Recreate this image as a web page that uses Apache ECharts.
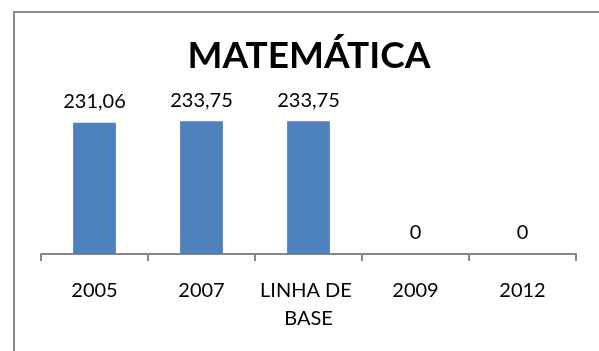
<!DOCTYPE html>
<html>
<head>
<meta charset="utf-8">
<script src="https://cdn.jsdelivr.net/npm/echarts@6/dist/echarts.min.js"></script>
<style>
  html, body { margin: 0; padding: 0; background: #fff; }
  #chart { width: 599px; height: 351px; }
</style>
</head>
<body>
<div id="chart"></div>
<script>
// Categories and scores for the mathematics chart
const categories = ['2005', '2007', 'LINHA DE BASE', '2009', '2012'];
const scores = [231.06, 233.75, 233.75, 0, 0];
const titleText = 'MATEMÁTICA';

const fmt = v => v === 0 ? '0' : v.toFixed(2).replace('.', ',');

const chart = echarts.init(document.getElementById('chart'), null, { renderer: 'canvas' });
chart.setOption({
  animation: false,
  backgroundColor: '#fff',
  graphic: [{
    type: 'rect',
    shape: { x: 14, y: 12, width: 800, height: 600 },
    style: { fill: 'none', stroke: '#8a8a8a', lineWidth: 2 },
    silent: true,
    z: 0
  }, {
    type: 'text',
    x: 309, y: 38,
    style: {
      text: titleText,
      fontFamily: 'Lato', fontWeight: 'bold', fontSize: 37, fill: '#000',
      textAlign: 'center', textVerticalAlign: 'top'
    },
    silent: true
  }],
  grid: { left: 41, right: 23, top: 112, bottom: 97 },
  xAxis: {
    type: 'category',
    data: categories,
    axisLine: { lineStyle: { color: '#868686', width: 2 } },
    axisTick: { show: true, alignWithLabel: false, length: 7, lineStyle: { color: '#868686', width: 2 } },
    axisLabel: {
      fontFamily: 'Lato', fontSize: 20, color: '#000', margin: 23,
      lineHeight: 28, width: 104, overflow: 'break', interval: 0
    }
  },
  yAxis: { type: 'value', min: 0, max: 250, show: false, splitLine: { show: false } },
  series: [{
    type: 'bar',
    data: scores,
    barWidth: '40%',
    itemStyle: { color: '#4F81BD' },
    label: {
      show: true, position: 'top', distance: 11,
      fontFamily: 'Lato', fontSize: 20, color: '#000',
      formatter: p => fmt(p.value)
    }
  }]
});
</script>
</body>
</html>
